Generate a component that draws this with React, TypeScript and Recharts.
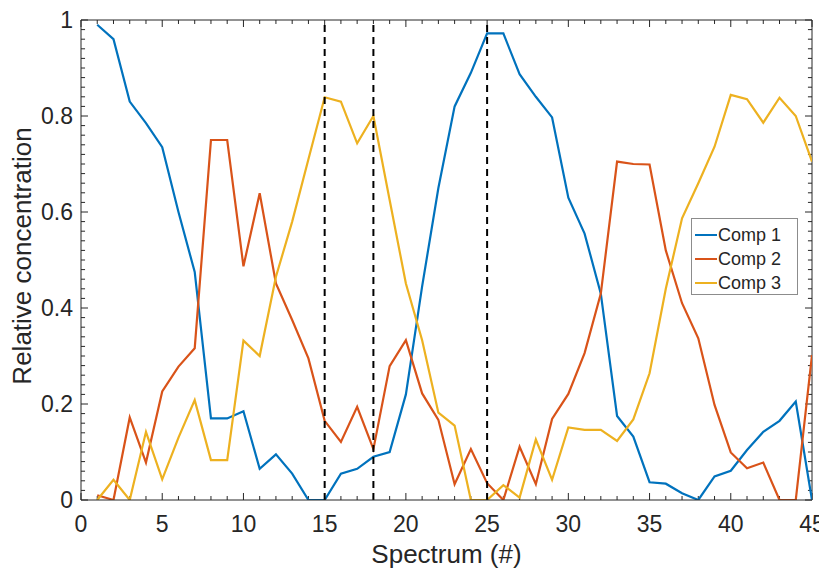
import React from 'react';
import { LineChart, Line, XAxis, YAxis, ReferenceLine, Legend } from 'recharts';

const spectrum = [1,2,3,4,5,6,7,8,9,10,11,12,13,14,15,16,17,18,19,20,21,22,23,24,25,26,27,28,29,30,31,32,33,34,35,36,37,38,39,40,41,42,43,44,45];
const comp1 = [0.99,0.96,0.83,0.785,0.735,0.60,0.475,0.17,0.17,0.185,0.065,0.095,0.055,0,0,0.055,0.065,0.09,0.10,0.22,0.445,0.65,0.82,0.89,0.972,0.972,0.887,0.84,0.797,0.63,0.555,0.43,0.175,0.132,0.037,0.034,0.014,0,0.049,0.061,0.104,0.142,0.165,0.205,0];
const comp2 = [0.01,0,0.172,0.078,0.226,0.278,0.316,0.75,0.75,0.487,0.639,0.451,0.375,0.295,0.165,0.121,0.194,0.106,0.279,0.333,0.222,0.167,0.033,0.106,0.035,0,0.111,0.033,0.169,0.221,0.306,0.43,0.705,0.70,0.699,0.52,0.41,0.337,0.198,0.099,0.066,0.078,0,0,0.302];
const comp3 = [0,0.042,0,0.142,0.043,0.13,0.208,0.083,0.083,0.332,0.30,0.465,0.58,0.71,0.839,0.83,0.743,0.80,0.625,0.451,0.333,0.182,0.155,0,0,0.031,0.005,0.126,0.042,0.151,0.146,0.146,0.123,0.168,0.264,0.44,0.587,0.66,0.736,0.844,0.835,0.786,0.838,0.80,0.705];
const seriesNames = ['Comp 1', 'Comp 2', 'Comp 3'];
const seriesColors = ['#0072BD', '#D95319', '#EDB120'];
const markers = [15, 18, 25];

const xMajorTicks = [0,5,10,15,20,25,30,35,40,45];
const xAllTicks = [0,1,2,3,4,5,6,7,8,9,10,11,12,13,14,15,16,17,18,19,20,21,22,23,24,25,26,27,28,29,30,31,32,33,34,35,36,37,38,39,40,41,42,43,44,45];
const yMajorTicks = [0,0.2,0.4,0.6,0.8,1];
const yAllTicks = [0,0.02,0.04,0.06,0.08,0.1,0.12,0.14,0.16,0.18,0.2,0.22,0.24,0.26,0.28,0.3,0.32,0.34,0.36,0.38,0.4,0.42,0.44,0.46,0.48,0.5,0.52,0.54,0.56,0.58,0.6,0.62,0.64,0.66,0.68,0.7,0.72,0.74,0.76,0.78,0.8,0.82,0.84,0.86,0.88,0.9,0.92,0.94,0.96,0.98,1];

const X_MIN = 0;
const X_MAX = 45;
const Y_MIN = 0;
const Y_MAX = 1;

const data = spectrum.map((x, i) => ({ x, c1: comp1[i], c2: comp2[i], c3: comp3[i] }));

const FONT = '"Liberation Sans", Arial, Helvetica, sans-serif';
const AX = '#262626';

// tick mark lengths expressed in data units (~7px major, ~4px minor)
const X_TICK_MAJ = 0.0146;
const X_TICK_MIN = 0.0083;
const Y_TICK_MAJ = 0.43;
const Y_TICK_MIN = 0.25;

const isMajorX = (v: number) => xMajorTicks.some((t) => Math.abs(t - v) < 1e-6);
const isMajorY = (v: number) => yMajorTicks.some((t) => Math.abs(t - v) < 1e-6);

const BottomTick = (p: any) => {
  const v = p.payload.value;
  if (!isMajorX(v)) return <g />;
  return (
    <text x={p.x} y={p.y + 32} textAnchor="middle" fontSize={23} fontFamily={FONT} fill={AX}>{String(v)}</text>
  );
};
const LeftTick = (p: any) => {
  const v = p.payload.value;
  if (!isMajorY(v)) return <g />;
  return (
    <text x={p.x - 8} y={p.y + 8} textAnchor="end" fontSize={23} fontFamily={FONT} fill={AX}>{String(Math.round(v * 10) / 10)}</text>
  );
};

const LegendBox = () => (
  <div style={{ border: '1px solid #8c8c8c', background: '#fff', width: 105, height: 75, boxSizing: 'content-box', padding: 0 }}>
    {seriesNames.map((n, i) => (
      <div key={n} style={{ display: 'flex', alignItems: 'center', height: 24, marginTop: i === 0 ? 4 : 0 }}>
        <svg width={26} height={24} style={{ display: 'block' }}>
          <line x1={3} y1={12} x2={25} y2={12} stroke={seriesColors[i]} strokeWidth={2} />
        </svg>
        <span style={{ fontFamily: FONT, fontSize: 18, color: AX, lineHeight: '24px' }}>{n}</span>
      </div>
    ))}
  </div>
);

export default function App() {
  return (
    <div style={{ width: 819, height: 561, background: '#fff' }}>
      <LineChart width={819} height={561} data={data} margin={{ top: 12, right: 15, bottom: 0, left: 0 }}>
        <XAxis
          dataKey="x"
          type="number"
          domain={[X_MIN, X_MAX]}
          allowDataOverflow
          ticks={xAllTicks}
          interval={0}
          tickSize={0}
          tickMargin={0}
          tickLine={false}
          height={69}
          axisLine={{ stroke: AX, strokeWidth: 1 }}
          tick={<BottomTick />}
          label={(props: any) => {
            const vb = props.viewBox;
            return (
              <text x={vb.x + vb.width / 2} y={555} textAnchor="middle" fontSize={26} fontFamily={FONT} fill={AX}>Spectrum (#)</text>
            );
          }}
        />
        <YAxis
          type="number"
          domain={[Y_MIN, Y_MAX]}
          allowDataOverflow
          ticks={yAllTicks}
          interval={0}
          tickSize={0}
          tickMargin={0}
          tickLine={false}
          width={73}
          axisLine={{ stroke: AX, strokeWidth: 1 }}
          tick={<LeftTick />}
          label={(props: any) => {
            const vb = props.viewBox;
            const cy = vb.y + vb.height / 2 - 4;
            return (
              <text x={23} y={cy} transform={`rotate(-90 23 ${cy})`} textAnchor="middle" fontSize={26} fontFamily={FONT} fill={AX}>Relative concentration</text>
            );
          }}
        />
        {/* frame: top and right edges */}
        <ReferenceLine y={Y_MAX} stroke={AX} strokeWidth={1} />
        <ReferenceLine x={X_MAX} stroke={AX} strokeWidth={1} />
        {/* inward tick marks on all four sides */}
        {xAllTicks.map((v) => {
          const len = isMajorX(v) ? X_TICK_MAJ : X_TICK_MIN;
          return (
            <ReferenceLine key={'xb' + v} segment={[{ x: v, y: Y_MIN }, { x: v, y: Y_MIN + len }]} stroke={AX} strokeWidth={1} />
          );
        })}
        {xAllTicks.map((v) => {
          const len = isMajorX(v) ? X_TICK_MAJ : X_TICK_MIN;
          return (
            <ReferenceLine key={'xt' + v} segment={[{ x: v, y: Y_MAX }, { x: v, y: Y_MAX - len }]} stroke={AX} strokeWidth={1} />
          );
        })}
        {yAllTicks.map((v) => {
          const len = isMajorY(v) ? Y_TICK_MAJ : Y_TICK_MIN;
          return (
            <ReferenceLine key={'yl' + v} segment={[{ x: X_MIN, y: v }, { x: X_MIN + len, y: v }]} stroke={AX} strokeWidth={1} />
          );
        })}
        {yAllTicks.map((v) => {
          const len = isMajorY(v) ? Y_TICK_MAJ : Y_TICK_MIN;
          return (
            <ReferenceLine key={'yr' + v} segment={[{ x: X_MAX, y: v }, { x: X_MAX - len, y: v }]} stroke={AX} strokeWidth={1} />
          );
        })}
        <Line type="linear" dataKey="c1" name={seriesNames[0]} stroke={seriesColors[0]} strokeWidth={2.2} dot={false} isAnimationActive={false} />
        <Line type="linear" dataKey="c2" name={seriesNames[1]} stroke={seriesColors[1]} strokeWidth={2.2} dot={false} isAnimationActive={false} />
        <Line type="linear" dataKey="c3" name={seriesNames[2]} stroke={seriesColors[2]} strokeWidth={2.2} dot={false} isAnimationActive={false} />
        {markers.map((m) => (
          <ReferenceLine key={'m' + m} x={m} stroke="#000" strokeWidth={2} strokeDasharray="7 5" />
        ))}
        <Legend
          layout="vertical"
          align="center"
          verticalAlign="middle"
          wrapperStyle={{ left: 683, top: 210, width: 107, height: 77 }}
          content={<LegendBox />}
        />
      </LineChart>
    </div>
  );
}
